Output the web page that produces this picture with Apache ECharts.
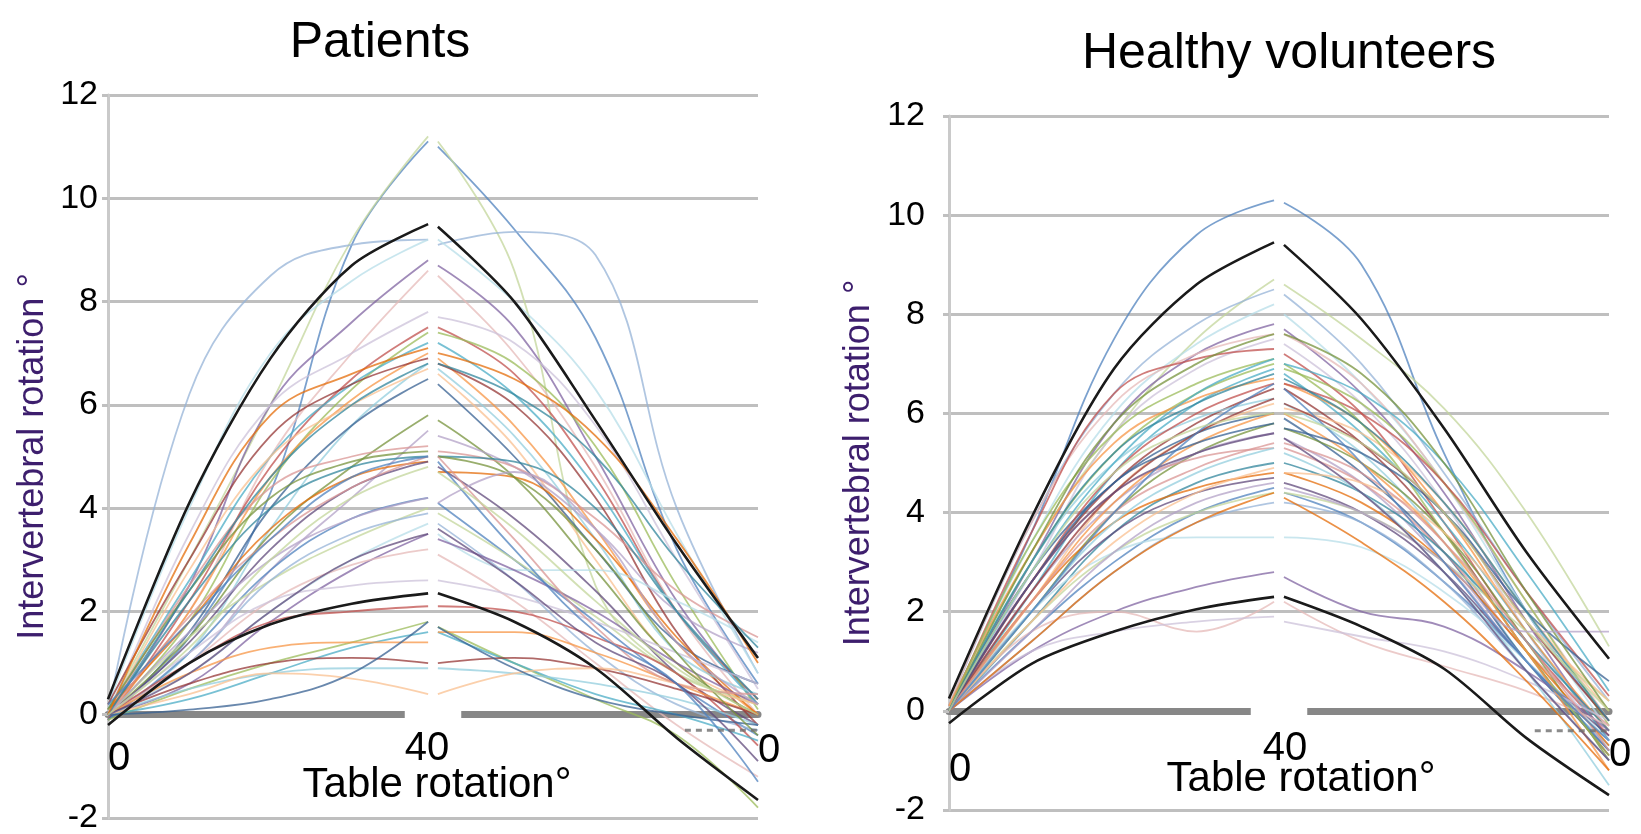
<!DOCTYPE html>
<html>
<head>
<meta charset="utf-8">
<title>Intervertebral rotation</title>
<script src="https://cdn.jsdelivr.net/npm/echarts@6/dist/echarts.min.js"></script>
<style>
  html, body { margin: 0; padding: 0; background: #fff; }
  #chart { width: 1641px; height: 834px; }
</style>
</head>
<body>
<div id="chart"></div>
<script>
// sample positions along the run: table going out 0->40, then back 40->0
var upX = [0, 10, 20, 30, 39.4];
var downX = [40.6, 50, 60, 70, 80];
var xTicks = ['0', '40', '0'];
var yTicks = [-2, 12, 2]; // min, max, step
var tailX = [71, 80];

// one row per subject: 5 values going out, 5 values coming back (degrees)
var patients = [
    [0.0, 1.5, 4.3, 9.1, 11.1, 11.0, 9.4, 7.3, 3.2, 0.6],
    [0.1, 3.0, 6.0, 9.2, 11.2, 11.1, 8.6, 2.5, 0.8, 0.3],
    [0.0, 6.2, 8.5, 9.1, 9.2, 9.1, 9.35, 8.9, 4.0, 0.8],
    [0.2, 4.0, 7.0, 8.4, 9.2, 9.2, 8.0, 6.3, 3.5, 0.8],
    [0.0, 2.5, 6.0, 7.6, 8.8, 8.7, 7.5, 5.0, 2.2, 0.2],
    [0.1, 2.0, 5.0, 7.0, 8.6, 8.5, 7.0, 4.8, 2.0, 0.0],
    [0.0, 3.5, 6.0, 7.0, 7.8, 7.7, 7.2, 5.6, 3.0, 0.5],
    [-0.1, 2.2, 4.8, 6.5, 7.5, 7.5, 6.6, 4.6, 2.0, 0.3],
    [0.0, 1.8, 4.5, 6.3, 7.4, 7.4, 6.8, 5.2, 2.5, 0.1],
    [0.1, 2.6, 5.0, 6.4, 7.2, 7.2, 6.2, 4.4, 2.0, 0.2],
    [0.0, 2.0, 4.6, 6.1, 7.0, 6.9, 5.6, 3.6, 1.4, 0.0],
    [0.2, 3.0, 5.4, 6.4, 6.9, 6.8, 6.0, 4.2, 1.6, -0.2],
    [0.0, 1.2, 3.6, 5.6, 6.8, 6.7, 5.4, 3.4, 1.2, 0.4],
    [0.0, 2.8, 5.0, 6.0, 6.7, 6.6, 5.2, 3.0, 1.0, 0.2],
    [-0.1, 1.6, 4.0, 5.6, 6.5, 6.4, 5.0, 3.2, 1.4, 0.6],
    [0.0, 1.5, 3.5, 4.8, 5.8, 5.7, 4.6, 2.8, 1.0, 0.0],
    [0.1, 1.0, 2.8, 4.2, 5.5, 5.4, 4.8, 3.6, 2.0, 1.2],
    [0.0, 2.5, 4.4, 5.0, 5.2, 5.1, 4.8, 3.8, 2.4, 1.5],
    [0.0, 2.2, 4.0, 4.8, 5.0, 5.0, 4.9, 4.0, 2.0, 0.3],
    [0.1, 1.8, 3.6, 4.6, 4.9, 4.7, 4.6, 3.4, 1.5, 0.0],
    [0.0, 1.4, 3.2, 4.4, 4.9, 4.8, 3.8, 2.4, 0.8, -0.2],
    [-0.1, 1.2, 2.8, 3.8, 4.2, 4.1, 3.0, 1.8, 0.6, -0.4],
    [0.0, 1.5, 2.6, 3.4, 4.0, 3.9, 3.0, 1.9, 0.8, 0.2],
    [0.0, 1.0, 2.6, 3.5, 3.9, 3.7, 2.6, 1.2, 0.2, -0.3],
    [0.1, 0.8, 2.0, 3.0, 3.7, 3.5, 2.8, 2.8, 2.2, 1.4],
    [0.0, 0.6, 1.8, 2.8, 3.5, 3.4, 2.8, 2.0, 1.0, 0.2],
    [0.0, 1.0, 2.2, 2.9, 3.2, 3.1, 2.2, 1.0, -0.2, -1.2],
    [0.0, 1.2, 2.2, 2.5, 2.6, 2.6, 2.3, 1.8, 1.2, 0.6],
    [0.0, 1.0, 1.8, 2.0, 2.1, 2.1, 2.0, 1.5, 0.8, -0.6],
    [-0.1, 0.5, 1.0, 1.4, 1.8, 1.7, 1.0, 0.3, -0.4, -1.8],
    [0.0, 0.3, 0.8, 1.3, 1.6, 1.6, 1.0, 0.4, 0.0, -0.5],
    [0.0, 0.8, 1.3, 1.4, 1.4, 1.6, 1.6, 1.2, 0.6, 0.0],
    [0.0, 0.6, 1.0, 1.1, 1.0, 1.0, 1.1, 0.9, 0.5, 0.0],
    [0.0, 0.5, 0.8, 0.9, 0.9, 0.9, 0.8, 0.6, 0.3, -0.2],
    [0.0, 0.4, 0.8, 0.7, 0.4, 0.4, 0.8, 0.9, 0.6, 0.2],
    [0.0, 0.1, 0.3, 0.8, 1.8, 1.7, 0.9, 0.3, 0.0, -0.2],
    [0.1, 2.4, 4.2, 4.9, 5.1, 5.0, 4.6, 3.2, 1.2, -0.4],
    [0.0, 1.6, 3.0, 3.8, 4.2, 4.1, 4.7, 3.6, 1.4, 0.2],
    [0.0, 1.9, 3.4, 4.4, 5.0, 5.0, 3.4, 1.7, 0.6, 0.4],
    [0.0, 2.4, 4.6, 6.0, 6.8, 6.8, 6.2, 5.0, 3.0, 1.3],
    [0.0, 3.3, 5.8, 6.6, 7.1, 7.0, 6.5, 5.4, 3.4, 1.0],
    [0.0, 0.8, 2.0, 3.0, 3.5, 3.6, 2.6, 1.4, 0.6, -0.9],
    [0.2, 1.8, 3.4, 4.6, 5.0, 4.9, 3.2, 1.6, 0.6, -1.3],
    [0.0, 1.3, 3.0, 4.2, 4.8, 4.7, 3.6, 2.2, 0.9, 0.0]
];
var patientsUpper = [0.3, 4.1, 6.9, 8.7, 9.5, 9.45, 8.0, 5.7, 3.3, 1.1];
var patientsLower = [-0.2, 1.0, 1.75, 2.15, 2.35, 2.35, 1.8, 0.9, -0.45, -1.65];
var patientsTail = [-0.3, -0.3];

var healthy = [
    [0.1, 3.6, 7.5, 9.6, 10.3, 10.25, 9.0, 5.2, 2.0, -0.2],
    [0.0, 3.2, 5.6, 7.5, 8.7, 8.6, 7.5, 6.1, 4.0, 1.3],
    [0.1, 3.8, 6.4, 7.8, 8.5, 8.4, 7.0, 4.8, 2.4, 0.2],
    [0.0, 3.4, 6.0, 7.4, 8.2, 8.0, 6.6, 4.6, 2.0, -0.4],
    [0.0, 3.0, 5.8, 7.2, 7.8, 7.7, 6.4, 4.4, 1.8, -0.6],
    [0.1, 3.8, 6.2, 7.2, 7.6, 7.6, 6.6, 4.6, 2.2, -0.2],
    [0.0, 2.8, 5.6, 6.9, 7.5, 7.4, 6.2, 4.2, 1.6, -0.8],
    [0.0, 3.6, 6.4, 7.1, 7.3, 7.2, 6.0, 3.8, 1.4, -0.5],
    [0.0, 3.0, 5.2, 6.4, 7.0, 6.9, 6.2, 4.6, 2.2, -0.3],
    [0.0, 2.4, 4.8, 6.2, 6.9, 6.8, 5.6, 3.8, 1.6, -0.6],
    [0.1, 3.2, 5.4, 6.3, 6.7, 6.6, 5.8, 4.0, 1.6, -0.4],
    [0.0, 2.6, 4.6, 5.8, 6.5, 6.5, 5.4, 3.6, 1.2, -0.9],
    [0.0, 3.0, 5.0, 5.9, 6.3, 6.2, 5.2, 3.4, 1.0, -0.7],
    [0.0, 2.2, 4.4, 5.6, 6.2, 6.1, 5.6, 4.2, 2.0, 0.0],
    [0.0, 2.8, 4.6, 5.6, 6.0, 5.9, 4.8, 3.2, 1.0, -0.8],
    [0.0, 2.0, 4.0, 5.2, 5.8, 5.7, 5.0, 3.6, 1.4, -1.0],
    [0.0, 2.4, 4.2, 5.2, 5.6, 5.5, 4.6, 3.0, 1.0, -0.6],
    [0.0, 2.6, 4.4, 5.1, 5.3, 5.3, 4.6, 3.2, 1.2, -0.3],
    [0.0, 1.8, 3.6, 4.6, 5.0, 5.0, 4.4, 3.2, 1.4, -0.4],
    [0.0, 2.2, 3.8, 4.5, 4.8, 4.8, 4.2, 3.0, 1.2, -0.7],
    [0.0, 2.0, 3.6, 4.4, 4.7, 4.6, 4.0, 2.8, 1.0, -0.5],
    [0.0, 1.6, 3.0, 4.0, 4.5, 4.4, 3.8, 2.6, 1.0, -0.8],
    [0.0, 1.8, 3.2, 4.0, 4.4, 4.4, 4.0, 3.0, 1.6, 0.2],
    [0.0, 1.4, 2.8, 3.8, 4.2, 4.2, 3.8, 2.6, 0.8, -1.0],
    [0.0, 2.0, 3.2, 3.5, 3.5, 3.5, 3.3, 2.4, 1.0, -0.6],
    [0.0, 1.2, 2.0, 2.5, 2.8, 2.7, 2.0, 1.7, 0.8, -0.4],
    [0.0, 1.6, 2.0, 1.6, 2.2, 2.2, 1.4, 0.9, 0.4, -0.3],
    [0.0, 1.2, 1.6, 1.8, 1.9, 1.8, 1.5, 1.2, 0.6, -0.2],
    [0.0, 2.6, 4.8, 6.0, 6.6, 6.6, 6.0, 4.6, 2.4, 0.3],
    [0.0, 3.4, 5.6, 6.6, 7.1, 7.0, 5.8, 3.6, 1.2, -0.9],
    [0.0, 2.8, 5.0, 6.4, 7.1, 7.0, 6.4, 5.0, 2.8, 0.4],
    [0.0, 2.2, 4.2, 5.4, 6.0, 6.0, 5.0, 3.4, 1.2, -1.2],
    [0.0, 2.4, 4.4, 5.6, 6.3, 6.2, 5.4, 4.0, 1.8, -0.2],
    [0.0, 2.0, 3.8, 4.8, 5.3, 5.2, 4.4, 2.8, 0.8, -1.5],
    [0.0, 1.8, 3.4, 4.4, 4.9, 4.8, 4.6, 3.6, 1.8, 0.2],
    [0.0, 2.6, 4.6, 5.4, 5.8, 5.7, 5.2, 4.0, 2.0, 0.6],
    [0.0, 3.2, 5.8, 7.0, 7.6, 7.6, 6.8, 5.0, 2.4, 0.0],
    [0.0, 1.6, 3.2, 4.2, 4.6, 4.5, 4.0, 3.0, 1.6, 1.6],
    [0.0, 2.2, 4.0, 4.9, 5.4, 5.4, 4.8, 3.4, 1.4, -0.8],
    [0.0, 3.0, 5.2, 6.2, 6.8, 6.7, 5.8, 4.2, 2.0, -0.2],
    [0.0, 1.4, 2.8, 3.8, 4.4, 4.3, 3.4, 2.2, 0.6, -1.2],
    [0.0, 2.6, 4.4, 5.2, 5.6, 5.5, 4.4, 2.8, 0.8, -1.0],
    [0.0, 2.0, 4.0, 5.6, 6.6, 6.5, 5.0, 3.0, 1.0, -0.6],
    [0.0, 2.8, 4.8, 5.7, 6.0, 6.0, 5.4, 4.0, 1.8, 0.0]
];
var healthyUpper = [0.25, 3.9, 6.9, 8.6, 9.45, 9.4, 7.9, 5.7, 3.2, 1.05];
var healthyLower = [-0.25, 0.95, 1.6, 2.05, 2.3, 2.3, 1.7, 0.85, -0.55, -1.7];
var healthyTail = [-0.4, -0.4];

var palette = ['#4f81bd', '#c3d69b', '#95b3d7', '#b7dde8', '#8064a2', '#e6b9b8',
    '#ccc1da', '#c0504d', '#9bbb59', '#4bacc6', '#f79646', '#953735',
    '#93cddd', '#fac090', '#376092', '#77933c', '#b3a2c7', '#d99694',
    '#31859c', '#e46c0a', '#604a7b'];

var font = '"Liberation Sans", Arial, sans-serif';
var chart = echarts.init(document.getElementById('chart'));

// panel boxes in px
var panels = [
    { left: 108, top: 95, width: 650, height: 723, title: 'Patients', titleX: 375, titleTop: 13,
      pad: { lo: 30, mid: [20, 12, 0, 0], hi: 22 }, labelGap: 10, nameGap: 57,
      xNameGap: 50, xNamePad: [0, 0, 0, 8] },
    { left: 949, top: 116, width: 660, height: 694, title: 'Healthy volunteers', titleX: 1284, titleTop: 24,
      pad: { lo: 45, mid: [24, 0, 0, 12], hi: 30 }, labelGap: 24, nameGap: 72,
      xNameGap: 48, xNamePad: [0, 0, 0, 44] }
];

function toPoints(row) {
    var pts = upX.map(function (x, i) { return [x, row[i]]; });
    pts.push([40, '-']);
    return pts.concat(downX.map(function (x, i) { return [x, row[i + 5]]; }));
}

function panelSeries(rows, upper, lower, tail, idx) {
    var list = rows.map(function (row, i) {
        return {
            type: 'line', xAxisIndex: idx, yAxisIndex: idx,
            data: toPoints(row), smooth: 0.4, symbol: 'none', silent: true,
            lineStyle: { width: 1.8, color: palette[i % palette.length], opacity: 0.75 },
            z: 2
        };
    });
    [upper, lower].forEach(function (row) {
        list.push({
            type: 'line', xAxisIndex: idx, yAxisIndex: idx,
            data: toPoints(row), smooth: 0.3, symbol: 'none', silent: true,
            lineStyle: { width: 2.6, color: '#1a1a1a' }, z: 4
        });
    });
    list.push({
        type: 'line', xAxisIndex: idx, yAxisIndex: idx,
        data: tailX.map(function (x, i) { return [x, tail[i]]; }),
        symbol: 'none', silent: true,
        lineStyle: { width: 3, color: '#6e6e6e', type: [6, 5], opacity: 0.8 }, z: 3
    });
    return list;
}

function xAxisFor(idx) {
    var p = panels[idx];
    // the x axis sits on y = 0, so lift it from the grid bottom
    var lift = p.height * (0 - yTicks[0]) / (yTicks[1] - yTicks[0]);
    var txt = { fontSize: 40, color: '#000', fontFamily: font };
    return {
        type: 'value', gridIndex: idx, min: 0, max: 80, interval: 40,
        position: 'bottom', offset: -lift,
        axisLine: { onZero: false, lineStyle: { color: '#878787', width: 7 } },
        axisTick: { show: false },
        splitLine: { show: false },
        axisLabel: {
            margin: -6, color: '#000', fontSize: 40, fontFamily: font,
            showMinLabel: true, showMaxLabel: true,
            alignMinLabel: 'left', alignMaxLabel: 'left',
            formatter: function (v) {
                var t = xTicks[Math.round(v / 40)];
                if (v === 40) return '{mid|' + t + '}';
                return v === 0 ? '{lo|' + t + '}' : '{hi|' + t + '}';
            },
            rich: {
                mid: Object.assign({ backgroundColor: '#fff', padding: p.pad.mid }, txt),
                lo: Object.assign({ padding: [p.pad.lo, 0, 0, 0] }, txt),
                hi: Object.assign({ padding: [p.pad.hi, 0, 0, 0] }, txt)
            }
        },
        name: 'Table rotation°', nameLocation: 'middle', nameGap: p.xNameGap, nameMoveOverlap: false,
        nameTextStyle: { fontSize: 42, color: '#000', fontFamily: font, padding: p.xNamePad }
    };
}

function yAxisFor(idx) {
    var p = panels[idx];
    return {
        type: 'value', gridIndex: idx, min: yTicks[0], max: yTicks[1], interval: yTicks[2],
        axisLine: { show: true, onZero: false, lineStyle: { color: '#cacaca', width: 3 } },
        axisTick: { show: true, length: 6, lineStyle: { color: '#c0c0c0', width: 3 } },
        splitLine: { lineStyle: { color: '#bfbfbf', width: 3 } },
        axisLabel: { margin: p.labelGap, color: '#000', fontSize: 34, fontFamily: font },
        name: 'Intervertebral rotation °', nameLocation: 'middle', nameRotate: 90,
        nameGap: p.nameGap, nameMoveOverlap: false,
        nameTextStyle: { fontSize: 36, color: '#3d1e6d', fontFamily: font }
    };
}

var option = {
    backgroundColor: '#fff',
    animation: false,
    title: panels.map(function (p) {
        return { text: p.title, left: p.titleX, top: p.titleTop, textAlign: 'center',
                 textStyle: { fontSize: 50, fontWeight: 'normal', color: '#000', fontFamily: font } };
    }),
    grid: panels.map(function (p) {
        return { left: p.left, top: p.top, width: p.width, height: p.height, outerBoundsMode: 'none' };
    }),
    xAxis: [xAxisFor(0), xAxisFor(1)],
    yAxis: [yAxisFor(0), yAxisFor(1)],
    series: panelSeries(patients, patientsUpper, patientsLower, patientsTail, 0)
        .concat(panelSeries(healthy, healthyUpper, healthyLower, healthyTail, 1))
};

chart.setOption(option);
</script>
</body>
</html>
